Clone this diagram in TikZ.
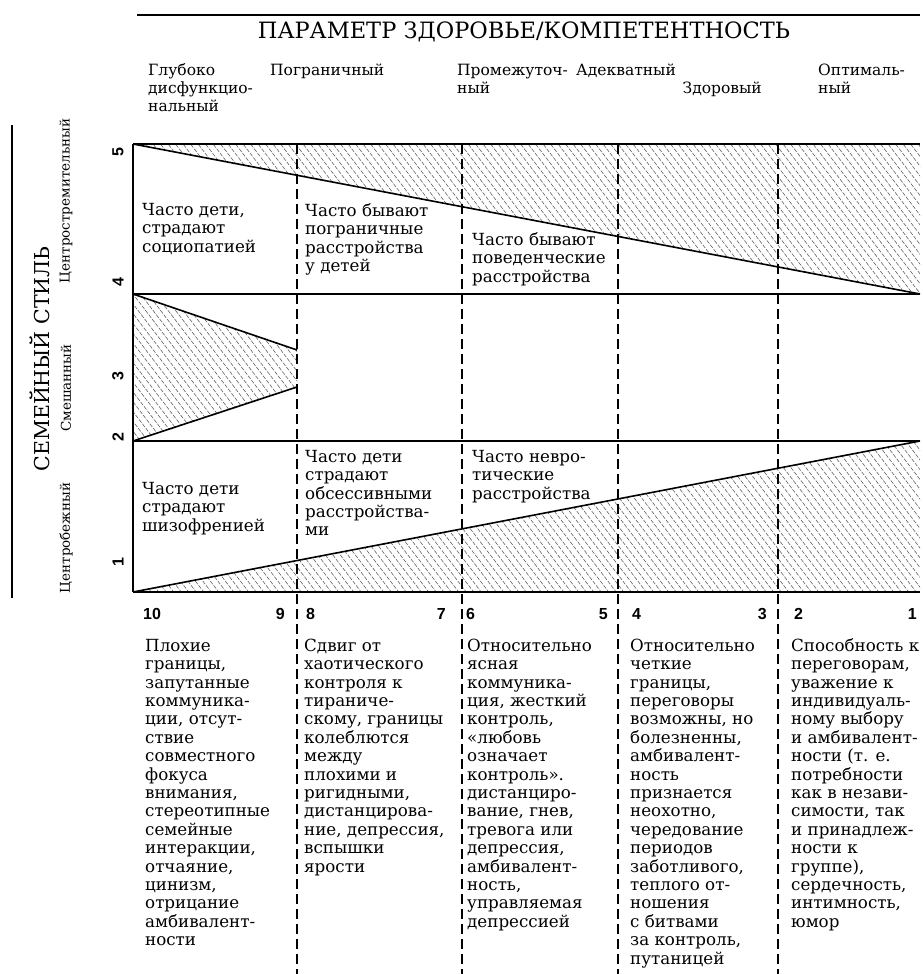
\documentclass[tikz,border=0pt]{standalone}
\usepackage{fontspec}
\setmainfont{DejaVu Serif}
\newfontfamily\txtf{DejaVu Serif}
\newfontfamily\numf{Liberation Sans}
\newcommand\topst{\rule{0pt}{15pt}}
\begin{document}
\begin{tikzpicture}[x=1pt,y=-1pt,
  bodytxt/.style={font=\txtf\fontsize{16.7}{18.4}\selectfont, align=left, anchor=north west, inner sep=0pt},
  hdrtxt/.style={font=\txtf\fontsize{15.5}{18}\selectfont, align=left, anchor=north west, inner sep=0pt},
  numtxt/.style={font=\numf\bfseries\fontsize{16}{18}\selectfont, inner sep=0pt},
  axtxt/.style={font=\txtf\fontsize{13.5}{15}\selectfont, rotate=90, inner sep=0pt},
  frame/.style={line width=1.4pt},
  slant/.style={line width=1.6pt},
  vdash/.style={line width=1.3pt, dash pattern=on 10pt off 5pt},
  hatch/.style={line width=0.55pt, black!65, dash pattern=on 4pt off 1.5pt}
]
\useasboundingbox[fill=white] (0,0) rectangle (923,974);

% ---------- header ----------
\coordinate (tl) at (137,15);
\coordinate (tr) at (920,15);
\draw[frame] (tl) -- (tr);
\node[font=\txtf\fontsize{22.5}{24}\selectfont, anchor=base, inner sep=0pt] (title) at (524,38) {ПАРАМЕТР ЗДОРОВЬЕ/КОМПЕТЕНТНОСТЬ};

\node[hdrtxt] (h1) at (148,60) {\topst Глубоко\\дисфункцио-\\нальный};
\node[hdrtxt] (h2) at (270,60) {\topst Пограничный};
\node[hdrtxt] (h3) at (457,60) {\topst Промежуточ-\\ный};
\node[hdrtxt] (h4) at (576,60) {\topst Адекватный};
\node[hdrtxt, anchor=base east] (h4b) at (762,93) {Здоровый};
\node[hdrtxt] (h5) at (818,60) {\topst Оптималь-\\ный};

% ---------- left axis ----------
\coordinate (la) at (12,125);
\coordinate (lb) at (12,598);
\draw[frame] (la) -- (lb);
\node[font=\txtf\fontsize{20.5}{22}\selectfont, rotate=90, inner sep=0pt] (fam) at (40,359) {СЕМЕЙНЫЙ СТИЛЬ};
\node[axtxt] (ax1) at (66,201) {Центростремительный};
\node[axtxt] (ax2) at (66,388) {Смешанный};
\node[axtxt] (ax3) at (66,538) {Центробежный};
\node[numtxt, rotate=90] (y5) at (118,152) {5};
\node[numtxt, rotate=90] (y4) at (118,282) {4};
\node[numtxt, rotate=90] (y3) at (118,376) {3};
\node[numtxt, rotate=90] (y2) at (118,437) {2};
\node[numtxt, rotate=90] (y1) at (118,562) {1};

% ---------- hatching ----------
\begin{scope}
  \clip (133,144) -- (920,144) -- (920,294) -- cycle
        (133,294) -- (297,350) -- (297,387) -- (133,441) -- cycle
        (133,592) -- (920,441) -- (920,592) -- cycle;
  \foreach \i in {-55,...,125}
    \draw[hatch] ({\i*7.5},140) -- ++(360,470);
\end{scope}

% ---------- chart frame ----------
\coordinate (a0) at (133,144);  \coordinate (a1) at (920,144);
\coordinate (b0) at (133,294);  \coordinate (b1) at (920,294);
\coordinate (c0) at (133,441);  \coordinate (c1) at (920,441);
\coordinate (d0) at (133,592);  \coordinate (d1) at (920,592);
\coordinate (m1) at (297,350);  \coordinate (m2) at (297,387);
\draw[frame] (a0) -- (a1);
\draw[frame] (b0) -- (b1);
\draw[frame] (c0) -- (c1);
\draw[frame] (d0) -- (d1);
\draw[frame] (a0) -- (d0);
\draw[slant] (a0) -- (b1);
\draw[slant] (b0) -- (m1);
\draw[slant] (c0) -- (m2);
\draw[slant] (d0) -- (c1);

\foreach \x/\n in {297/v1,462/v2,618/v3,778/v4}{
  \coordinate (\n t) at (\x,144);
  \coordinate (\n b) at (\x,974);
  \draw[vdash] (\n t) -- (\n b);
}

% ---------- chart texts (node y = first baseline - 15) ----------
\node[bodytxt] (t11) at (142,200) {\topst Часто дети,\\страдают\\социопатией};
\node[bodytxt] (t12) at (305,201) {\topst Часто бывают\\пограничные\\расстройства\\у детей};
\node[bodytxt] (t13) at (472,230) {\topst Часто бывают\\поведенческие\\расстройства};
\node[bodytxt] (t31) at (142,479) {\topst Часто дети\\страдают\\шизофренией};
\node[bodytxt] (t32) at (305,447) {\topst Часто дети\\страдают\\обсессивными\\расстройства-\\ми};
\node[bodytxt] (t33) at (472,447) {\topst Часто невро-\\тические\\расстройства};

% ---------- scale numbers ----------
\node[numtxt, anchor=base west] (n10) at (143,619) {10};
\node[numtxt, anchor=base east] (n9) at (285,619) {9};
\node[numtxt, anchor=base west] (n8) at (306,619) {8};
\node[numtxt, anchor=base east] (n7) at (446,619) {7};
\node[numtxt, anchor=base west] (n6) at (466,619) {6};
\node[numtxt, anchor=base east] (n5) at (608,619) {5};
\node[numtxt, anchor=base west] (n4) at (632,619) {4};
\node[numtxt, anchor=base east] (n3) at (767,619) {3};
\node[numtxt, anchor=base west] (n2) at (794,619) {2};
\node[numtxt, anchor=base east] (n1) at (917,619) {1};

% ---------- descriptions ----------
\node[bodytxt] (d1t) at (145,636) {\topst Плохие\\границы,\\запутанные\\коммуника-\\ции, отсут-\\ствие\\совместного\\фокуса\\внимания,\\стереотипные\\семейные\\интеракции,\\отчаяние,\\цинизм,\\отрицание\\амбивалент-\\ности};
\node[bodytxt] (d2t) at (304,636) {\topst Сдвиг от\\хаотического\\контроля к\\тираниче-\\скому, границы\\колеблются\\между\\плохими и\\ригидными,\\дистанцирова-\\ние, депрессия,\\вспышки\\ярости};
\node[bodytxt] (d3t) at (467,636) {\topst Относительно\\ясная\\коммуника-\\ция, жесткий\\контроль,\\«любовь\\означает\\контроль».\\дистанциро-\\вание, гнев,\\тревога или\\депрессия,\\амбивалент-\\ность,\\управляемая\\депрессией};
\node[bodytxt] (d4t) at (630,636) {\topst Относительно\\четкие\\границы,\\переговоры\\возможны, но\\болезненны,\\амбивалент-\\ность\\признается\\неохотно,\\чередование\\периодов\\заботливого,\\теплого от-\\ношения\\с битвами\\за контроль,\\путаницей};
\node[bodytxt] (d5t) at (791,636) {\topst Способность к\\переговорам,\\уважение к\\индивидуаль-\\ному выбору\\и амбивалент-\\ности (т. е.\\потребности\\как в незави-\\симости, так\\и принадлеж-\\ности к\\группе),\\сердечность,\\интимность,\\юмор};
\end{tikzpicture}
\end{document}
